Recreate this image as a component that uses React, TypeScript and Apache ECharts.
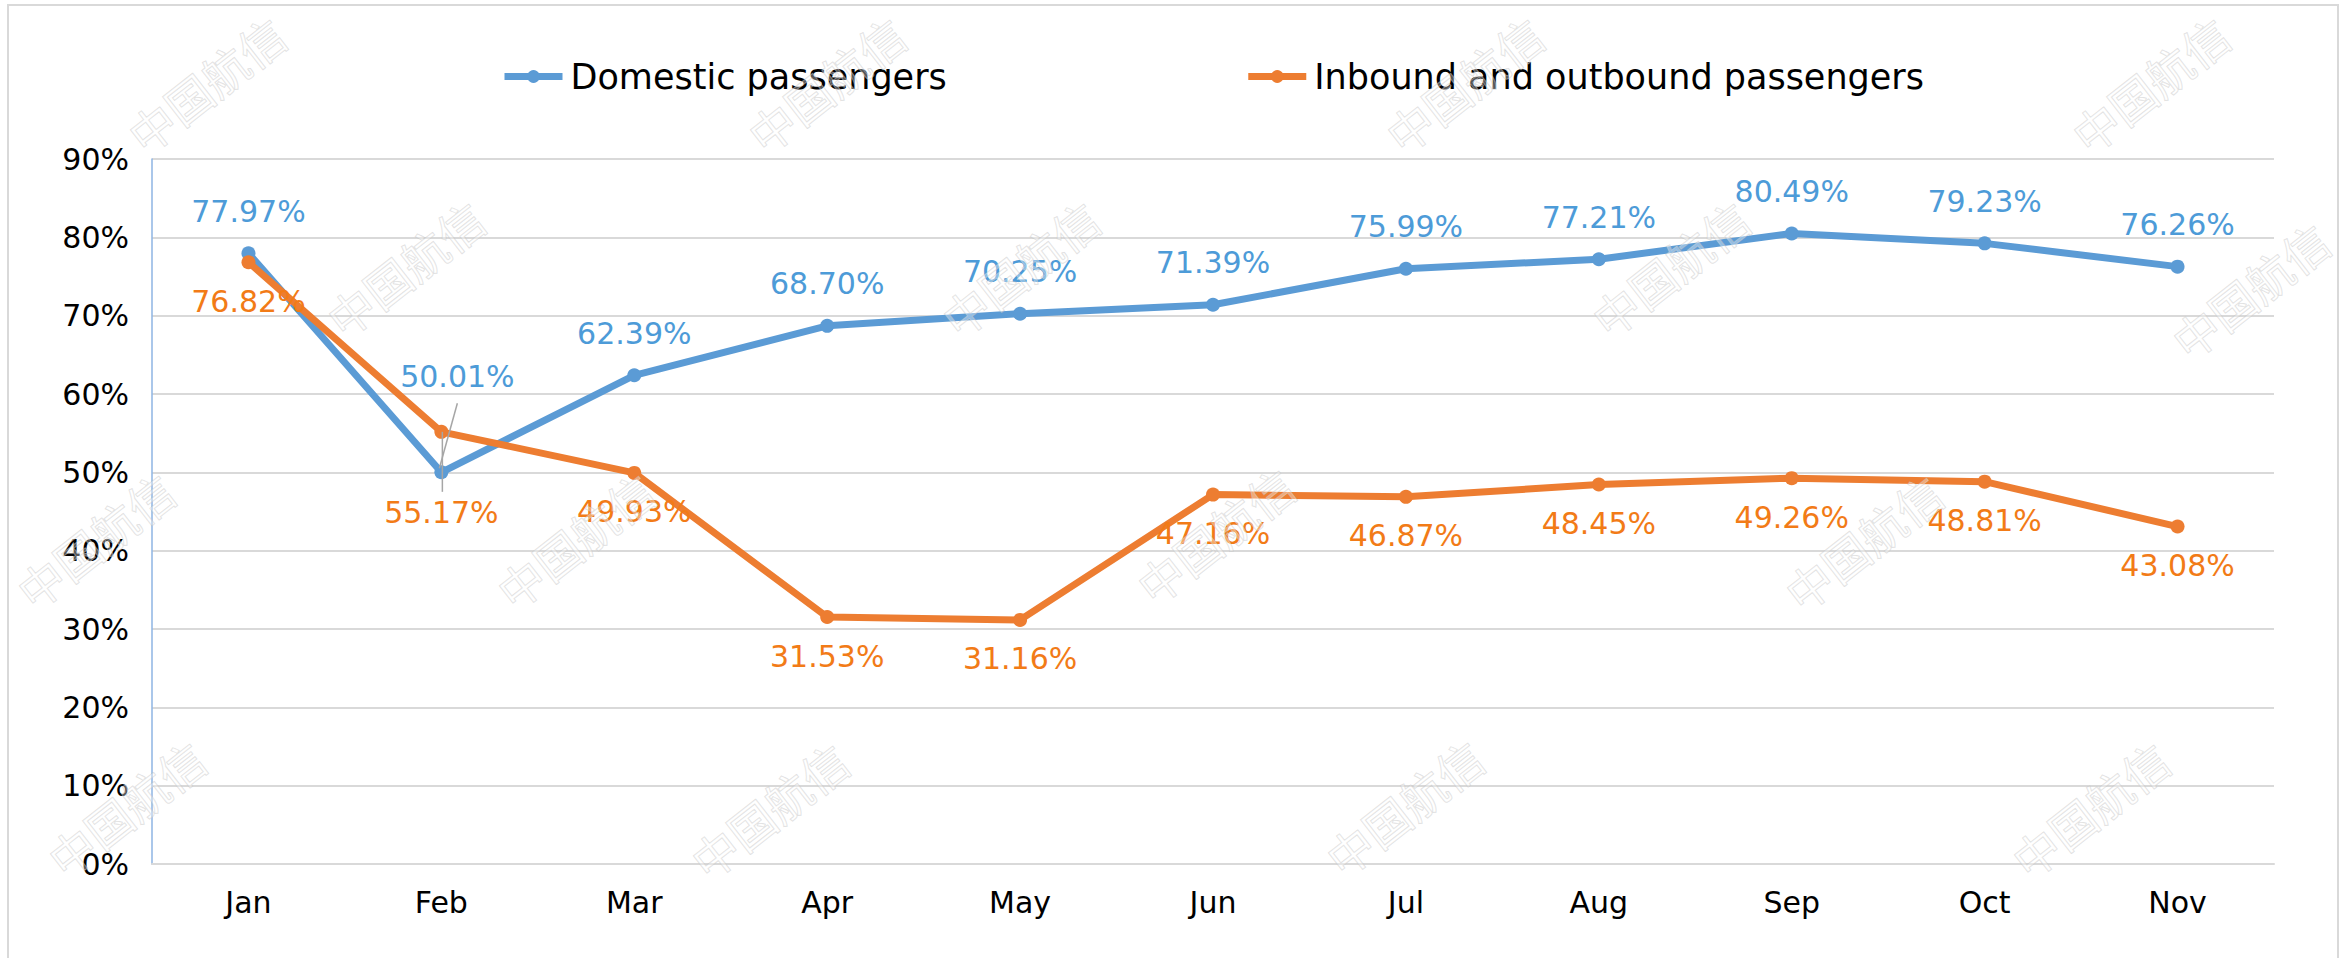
import React, { useEffect, useRef } from "react";
import * as echarts from "echarts";

const months = ["Jan", "Feb", "Mar", "Apr", "May", "Jun", "Jul", "Aug", "Sep", "Oct", "Nov"];
const domestic = [77.97, 50.01, 62.39, 68.7, 70.25, 71.39, 75.99, 77.21, 80.49, 79.23, 76.26];
const inbound = [76.82, 55.17, 49.93, 31.53, 31.16, 47.16, 46.87, 48.45, 49.26, 48.81, 43.08];
const seriesNames = ["Domestic passengers", "Inbound and outbound passengers"];
const yMin = 0;
const yMax = 90;
const yStep = 10;

const FONT = "'DejaVu Sans', 'Noto Sans', sans-serif";
const BLUE = "#5B9BD5";
const ORANGE = "#ED7D31";
const BLUE_LABEL = "#4D9BD8";
const ORANGE_LABEL = "#F27B17";

const watermarkSpots: [number, number][] = [
  [206, 84], [826, 84], [1464, 84], [2150, 84],
  [405, 268], [1020, 268], [1670, 268], [2250, 290],
  [95, 540], [575, 540], [1215, 535], [1863, 542],
  [126, 808], [769, 810], [1404, 807], [2090, 809],
];

export default function App() {
  const ref = useRef<HTMLDivElement>(null);
  useEffect(() => {
    if (!ref.current) return;
    const chart = echarts.init(ref.current, undefined, { renderer: "svg" });
    const fmt = (p: any) => Number(p.value).toFixed(2) + "%";

    const watermarks = watermarkSpots.map(([x, y]) => ({
      type: "text",
      x,
      y,
      rotation: (38 * Math.PI) / 180,
      z: 100,
      silent: true,
      style: {
        text: "中国航信",
        font: "46px 'Noto Sans CJK SC'",
        align: "center",
        verticalAlign: "middle",
        fill: "rgba(255,255,255,0.35)",
        stroke: "rgba(190,190,190,0.5)",
        lineWidth: 1,
      },
    }));

    const option: any = {
      animation: false,
      backgroundColor: "#fff",
      legend: {
        data: seriesNames,
        left: 496,
        top: 54,
        itemWidth: 58,
        itemHeight: 16,
        itemGap: 298,
        lineStyle: { width: 7 },
        textStyle: { fontFamily: FONT, fontSize: 35, color: "#000", padding: [0, 0, 0, 3] },
      },
      grid: { left: 152, right: 77, top: 159, bottom: 94 },
      xAxis: {
        type: "category",
        data: months,
        boundaryGap: true,
        axisLine: { show: true, lineStyle: { color: "#D9D9D9", width: 2 } },
        axisTick: { show: false },
        axisLabel: { fontFamily: FONT, fontSize: 30, color: "#000", margin: 23 },
      },
      yAxis: {
        type: "value",
        min: yMin,
        max: yMax,
        interval: yStep,
        axisLine: { show: true, lineStyle: { color: "#8EB4E3", width: 1.5 } },
        axisTick: { show: false },
        axisLabel: { fontFamily: FONT, fontSize: 30, color: "#000", margin: 23, formatter: "{value}%" },
        splitLine: { lineStyle: { color: "#D9D9D9", width: 2 } },
      },
      graphic: [
        {
          type: "rect",
          shape: { x: 8, y: 5, width: 2330, height: 1000 },
          style: { fill: "none", stroke: "#D9D9D9", lineWidth: 2 },
          silent: true,
          z: -1,
        },
        ...watermarks,
      ],
      series: [
        {
          name: seriesNames[0],
          type: "line",
          data: domestic.map((v, i) =>
            i === 1 ? { value: v, label: { offset: [16, -54] } } : v
          ),
          symbol: "circle",
          symbolSize: 14,
          lineStyle: { color: BLUE, width: 7 },
          itemStyle: { color: BLUE },
          label: {
            show: true,
            position: "top",
            distance: 20,
            formatter: fmt,
            fontFamily: FONT,
            fontSize: 30,
            color: BLUE_LABEL,
          },
        },
        {
          name: seriesNames[1],
          type: "line",
          data: inbound.map((v, i) =>
            i === 1 ? { value: v, label: { offset: [0, 42] } } : v
          ),
          symbol: "circle",
          symbolSize: 14,
          lineStyle: { color: ORANGE, width: 7 },
          itemStyle: { color: ORANGE },
          label: {
            show: true,
            position: "bottom",
            distance: 17,
            formatter: fmt,
            fontFamily: FONT,
            fontSize: 30,
            color: ORANGE_LABEL,
          },
        },
      ],
    };
    chart.setOption(option);

    // leader lines for the displaced February labels, positioned through the chart's own scales
    const bp = chart.convertToPixel({ seriesIndex: 0 }, [1, domestic[1]]) as number[];
    const op = chart.convertToPixel({ seriesIndex: 1 }, [1, inbound[1]]) as number[];
    if (bp && op) {
      chart.setOption({
        graphic: [
          {
            type: "line",
            id: "leadBlue",
            shape: { x1: bp[0] - 2, y1: bp[1] - 4, x2: bp[0] + 16, y2: bp[1] - 69 },
            style: { stroke: "#A6A6A6", lineWidth: 1.5 },
            z: 50,
            silent: true,
          },
          {
            type: "line",
            id: "leadOrange",
            shape: { x1: op[0] + 1, y1: op[1], x2: op[0] + 1, y2: op[1] + 60 },
            style: { stroke: "#A6A6A6", lineWidth: 1.5 },
            z: 50,
            silent: true,
          },
        ],
      });
    }

    return () => chart.dispose();
  }, []);
  return (
    <div
      ref={ref}
      style={{ position: "fixed", left: 0, top: 0, width: 2351, height: 958, background: "#fff" }}
    />
  );
}
